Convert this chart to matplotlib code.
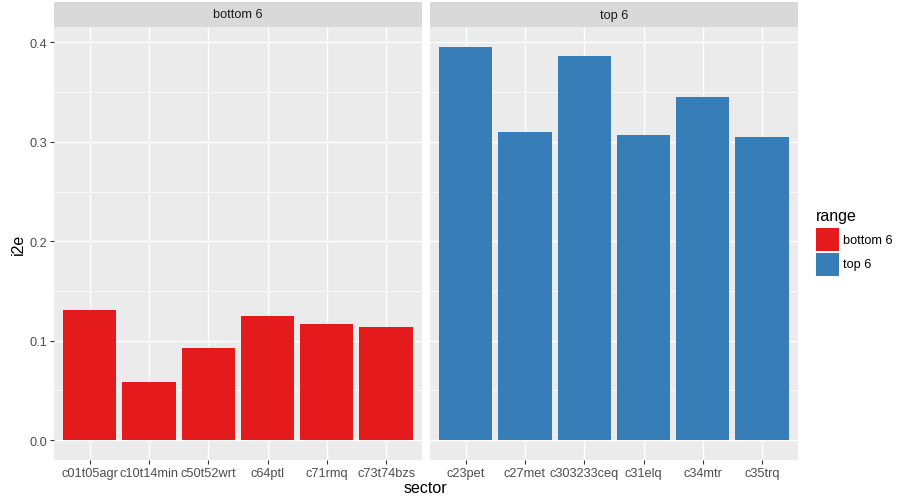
import matplotlib
matplotlib.use("Agg")
import matplotlib.pyplot as plt
from matplotlib.patches import Rectangle
from matplotlib.ticker import MultipleLocator

plt.rcParams['font.family'] = ['Liberation Sans', 'DejaVu Sans']

# ---- data ----
panels = ["bottom 6", "top 6"]
bottom_sectors = ["c01t05agr", "c10t14min", "c50t52wrt", "c64ptl", "c71rmq", "c73t74bzs"]
bottom_values = [0.1307, 0.0580, 0.0922, 0.1243, 0.1163, 0.1133]
top_sectors = ["c23pet", "c27met", "c303233ceq", "c31elq", "c34mtr", "c35trq"]
top_values = [0.3957, 0.3100, 0.3866, 0.3070, 0.3454, 0.3050]
colors = {"bottom 6": "#E41A1C", "top 6": "#377EB8"}
y_ticks = [0.0, 0.1, 0.2, 0.3, 0.4]

W, H = 897, 502
DPI = 100
fig = plt.figure(figsize=(W / DPI, H / DPI), dpi=DPI)
fig.patch.set_facecolor("white")

SMALL = 9.2
BIG = 11.5

def fx(px):
    return px / W

def fy(py):
    return 1 - py / H

panel_top, panel_bot = 28.0, 460.7
strip_top = 3.0
lefts = [54.0, 430.0]
pw = 367.7

ymax = max(top_values + bottom_values)
ylim = (-0.05 * ymax, ymax * 1.05)

data = [(bottom_sectors, bottom_values), (top_sectors, top_values)]
axes = []
for i, (name, (cats, vals)) in enumerate(zip(panels, data)):
    ax = fig.add_axes([fx(lefts[i]), fy(panel_bot), pw / W, (panel_bot - panel_top) / H])
    ax.set_facecolor("#EBEBEB")
    xs = list(range(1, len(cats) + 1))
    ax.bar(xs, vals, width=0.9, color=colors[name], zorder=3)
    ax.set_xlim(0.4, len(cats) + 0.6)
    ax.set_ylim(*ylim)
    ax.set_xticks(xs)
    ax.set_xticklabels(cats)
    ax.set_yticks(y_ticks)
    ax.yaxis.set_minor_locator(MultipleLocator(0.05))
    ax.grid(which="major", color="white", linewidth=1.07, zorder=1)
    ax.grid(which="minor", axis="y", color="white", linewidth=0.53, zorder=1)
    ax.set_axisbelow(True)
    for s in ax.spines.values():
        s.set_visible(False)
    ax.tick_params(axis="both", which="major", length=2.75, width=0.8, color="#333333",
                   labelcolor="#4D4D4D", labelsize=SMALL, pad=2.2)
    ax.tick_params(axis="both", which="minor", length=0)
    if i == 0:
        ax.set_yticklabels([f"{v:.1f}" for v in y_ticks])
    else:
        ax.tick_params(axis="y", which="major", length=0, labelleft=False)
    # strip
    sax = fig.add_axes([fx(lefts[i]), fy(panel_top), pw / W, (panel_top - strip_top) / H])
    sax.set_facecolor("#D9D9D9")
    sax.set_xticks([])
    sax.set_yticks([])
    for s in sax.spines.values():
        s.set_visible(False)
    sax.text(0.5, 0.5, name, ha="center", va="center", fontsize=SMALL, color="#1A1A1A",
             transform=sax.transAxes)
    axes.append(ax)

# axis titles
fig.text(fx(18), fy((panel_top + panel_bot) / 2), "i2e", rotation=90, ha="center", va="center",
         fontsize=BIG, color="black")
fig.text(fx((lefts[0] + lefts[1] + pw) / 2), fy(489), "sector", ha="center", va="center",
         fontsize=BIG, color="black")

# legend
fig.text(fx(815.5), fy(217), "range", ha="left", va="center", fontsize=BIG, color="black")
key_w, key_h = 23.0, 23.0
for j, name in enumerate(panels):
    top = 229.3 + j * (key_h + 1.2)
    fig.add_artist(Rectangle((fx(816), fy(top + key_h)), key_w / W, key_h / H,
                             facecolor=colors[name], edgecolor="none",
                             transform=fig.transFigure))
    fig.text(fx(843), fy(top + key_h / 2), name, ha="left", va="center", fontsize=SMALL,
             color="black")

fig.savefig("out.png", dpi=DPI)
